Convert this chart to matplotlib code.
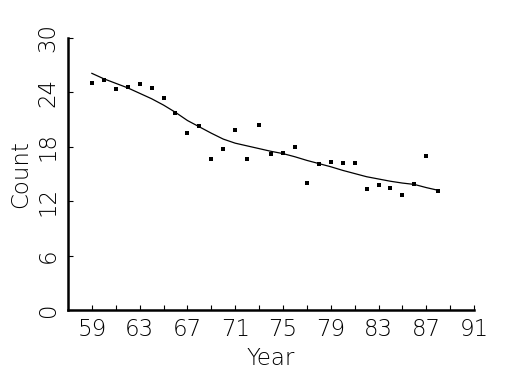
import numpy as np
import matplotlib
matplotlib.use("Agg")
import matplotlib.pyplot as plt

# observed counts by year
years = np.arange(59, 89)
counts = [25.0, 25.4, 24.4, 24.6, 24.9, 24.5, 23.4, 21.7, 19.5, 20.3,
          16.7, 17.8, 19.8, 16.6, 20.4, 17.2, 17.3, 18.0, 14.0, 16.1,
          16.3, 16.2, 16.2, 13.3, 13.8, 13.5, 12.7, 13.9, 17.0, 13.1]

# smoothed trend
trend = [26.1, 25.5, 25.0, 24.5, 23.9, 23.3, 22.6, 21.8, 20.9, 20.2,
         19.5, 18.85, 18.4, 18.1, 17.8, 17.5, 17.25, 16.9, 16.5, 16.15,
         15.8, 15.4, 15.05, 14.7, 14.45, 14.2, 14.0, 13.85, 13.5, 13.2]

xticks = np.arange(59, 92, 4)
yticks = np.arange(0, 31, 6)

plt.rcParams['font.family'] = ['DejaVu Sans']
plt.rcParams['font.weight'] = 'light'
fig = plt.figure(figsize=(5.25, 3.75), dpi=100)
ax = fig.add_axes([0.1295, 0.1733, 0.7735, 0.7254])

ax.plot(years, trend, color='black', lw=0.9)
ax.plot(years, counts, 's', color='black', ms=2.6, mew=0)

ax.set_xlim(57, 91)
ax.set_ylim(0, 30)
ax.set_xticks(xticks)
ax.set_xticks(np.arange(59, 92, 2), minor=True)
ax.set_yticks(yticks)

for s in ['top', 'right']:
    ax.spines[s].set_visible(False)
for s in ['left', 'bottom']:
    ax.spines[s].set_linewidth(1.8)

ax.tick_params(direction='in', length=3.5, width=0.8, labelsize=16.5,
               which='both', pad=6)
ax.tick_params(axis='y', labelrotation=90, pad=6)
for lab in ax.get_xticklabels() + ax.get_yticklabels():
    lab.set_va('center' if lab in ax.get_yticklabels() else 'top')
    lab.set_fontweight('light')

ax.set_xlabel('Year', fontsize=16.5, labelpad=4, fontweight='light')
ax.set_ylabel('Count', fontsize=16.5, labelpad=3, fontweight='light')

fig.savefig('out.png', dpi=100)
